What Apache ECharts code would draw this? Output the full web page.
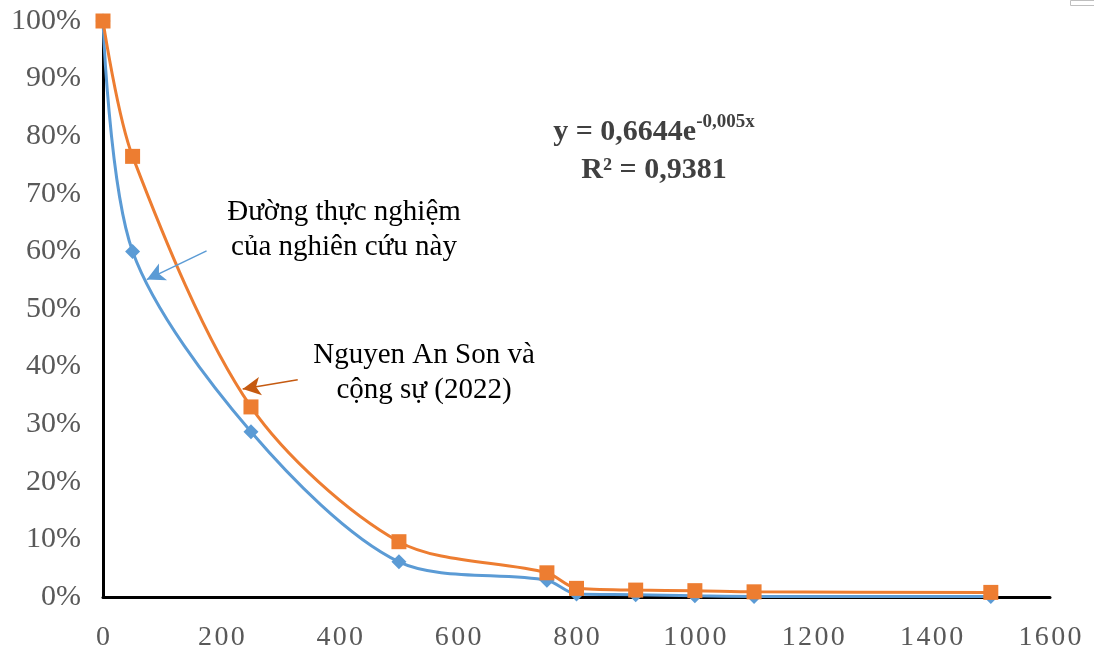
<!DOCTYPE html>
<html>
<head>
<meta charset="utf-8">
<script src="https://cdn.jsdelivr.net/npm/echarts@6/dist/echarts.min.js"></script>
<style>
  html, body { margin: 0; padding: 0; background: #fff; }
  #chart { width: 1094px; height: 653px; }
</style>
</head>
<body>
<div id="chart"></div>
<script>
// x values (same for both curves)
const xValues = [0, 50, 250, 500, 750, 800, 900, 1000, 1100, 1500]
// Đường thực nghiệm của nghiên cứu này (blue)
const studyValues = [1.00, 0.60, 0.287, 0.061, 0.029, 0.005, 0.004, 0.002, 0.001, 0.001]
// Nguyen An Son và cộng sự (2022) (orange)
const nasValues = [1.00, 0.765, 0.33, 0.096, 0.042, 0.015, 0.012, 0.011, 0.009, 0.008]
const xTicks = [0, 200, 400, 600, 800, 1000, 1200, 1400, 1600]

const serif = '"Liberation Serif", "Times New Roman", serif'
const textGray = '#595959'

const chart = echarts.init(document.getElementById('chart'))

const option = {
  backgroundColor: '#fff',
  animation: false,
  grid: { left: 103, right: 44, top: 21, bottom: 56 },
  xAxis: {
    type: 'value',
    min: 0,
    max: 1600,
    interval: 200,
    axisLine: { show: true, lineStyle: { color: '#000', width: 3 } },
    axisTick: { show: false },
    splitLine: { show: false },
    axisLabel: {
      margin: 27,
      color: textGray,
      fontFamily: serif,
      fontSize: 28,
      formatter: v => xTicks.includes(v) ? String(v).split('').join('\u200a') : ''
    }
  },
  yAxis: {
    type: 'value',
    min: 0,
    max: 1,
    interval: 0.1,
    axisLine: { show: true, lineStyle: { color: '#000', width: 3 } },
    axisTick: { show: false },
    splitLine: { show: false },
    axisLabel: {
      margin: 22,
      color: textGray,
      fontFamily: serif,
      fontSize: 30,
      formatter: v => Math.round(v * 100) + '%'
    }
  },
  series: [
    {
      name: 'Đường thực nghiệm của nghiên cứu này',
      type: 'line',
      smooth: 0.3,
      data: xValues.map((x, i) => [x, studyValues[i]]),
      symbol: 'diamond',
      symbolSize: 15,
      itemStyle: { color: '#5B9BD5' },
      lineStyle: { color: '#5B9BD5', width: 3 },
      markLine: {
        silent: true,
        symbol: ['none', 'arrow'],
        symbolSize: [14, 18],
        label: { show: false },
        lineStyle: { color: '#5B9BD5', width: 1.5, type: 'solid' },
        data: [[{ coord: [175, 0.601] }, { coord: [74, 0.551] }]]
      }
    },
    {
      name: 'Nguyen An Son và cộng sự (2022)',
      type: 'line',
      smooth: 0.3,
      data: xValues.map((x, i) => [x, nasValues[i]]),
      symbol: 'rect',
      symbolSize: 15,
      itemStyle: { color: '#ED7D31' },
      lineStyle: { color: '#ED7D31', width: 3 },
      markLine: {
        silent: true,
        symbol: ['none', 'arrow'],
        symbolSize: [14, 18],
        label: { show: false },
        lineStyle: { color: '#C55A11', width: 1.5, type: 'solid' },
        data: [[{ coord: [329, 0.377] }, { coord: [236, 0.361] }]]
      }
    }
  ],
  graphic: [
    {
      type: 'text',
      x: 344, y: 230,
      style: {
        text: 'Đường thực nghiệm\ncủa nghiên cứu này',
        font: '29px ' + serif,
        fill: '#000',
        align: 'center',
        verticalAlign: 'middle',
        lineHeight: 35
      }
    },
    {
      type: 'text',
      x: 424, y: 373,
      style: {
        text: 'Nguyen An Son và\ncộng sự (2022)',
        font: '29px ' + serif,
        fill: '#000',
        align: 'center',
        verticalAlign: 'middle',
        lineHeight: 35
      }
    },
    {
      type: 'text',
      x: 654, y: 130,
      style: {
        text: '{b|y = 0,6644e}{s|-0,005x}',
        align: 'center',
        verticalAlign: 'middle',
        rich: {
          b: { fontFamily: serif, fontSize: 30, fontWeight: 'bold', fill: '#404040', verticalAlign: 'bottom', lineHeight: 34 },
          s: { fontFamily: serif, fontSize: 19, fontWeight: 'bold', fill: '#404040', verticalAlign: 'top', lineHeight: 34 }
        }
      }
    },
    {
      type: 'text',
      x: 654, y: 170,
      style: {
        text: 'R² = 0,9381',
        font: 'bold 30px ' + serif,
        fill: '#404040',
        align: 'center',
        verticalAlign: 'middle'
      }
    },
    {
      type: 'rect',
      left: 1068, top: -2,
      shape: { width: 40, height: 5 },
      style: { fill: 'none', stroke: '#bfbfbf', lineWidth: 1 }
    }
  ]
}

chart.setOption(option)
</script>
</body>
</html>
